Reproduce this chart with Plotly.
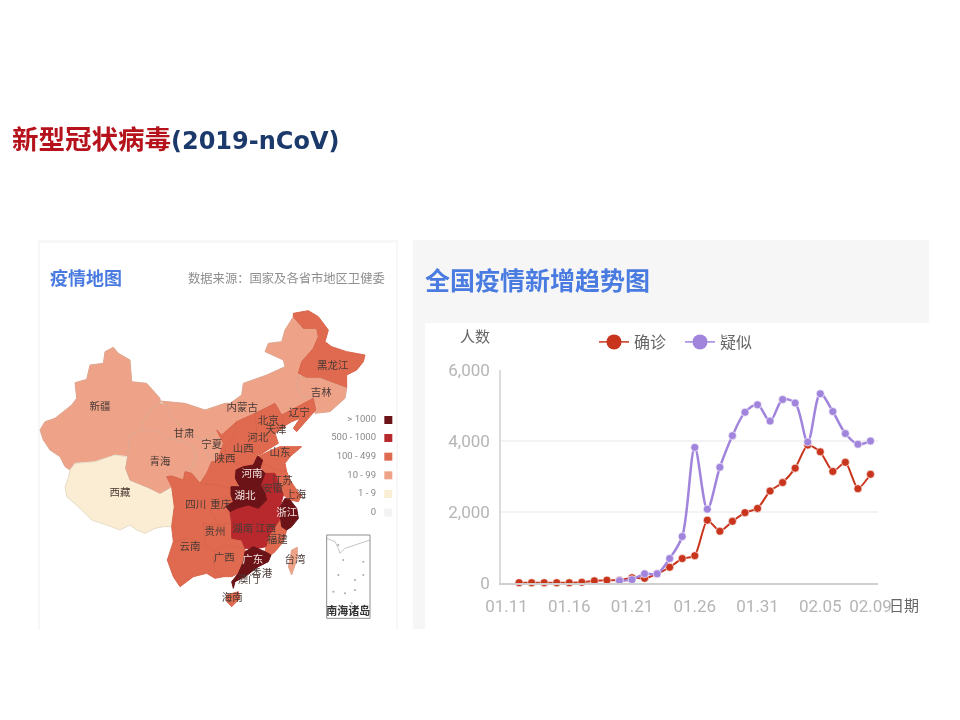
import plotly.graph_objects as go

# trend chart values
days = ['01.11', '01.12', '01.13', '01.14', '01.15', '01.16', '01.17', '01.18', '01.19', '01.20',
        '01.21', '01.22', '01.23', '01.24', '01.25', '01.26', '01.27', '01.28', '01.29', '01.30',
        '01.31', '02.01', '02.02', '02.03', '02.04', '02.05', '02.06', '02.07', '02.08', '02.09']
confirmed = [None, 10, 10, 10, 10, 10, 20, 60, 80, 77, 149, 131, 259, 444, 688, 769,
             1771, 1459, 1737, 1982, 2102, 2590, 2829, 3235, 3887, 3694, 3143, 3399, 2656, 3062]
suspected = [None, None, None, None, None, None, None, None, None, 65, 95, 260, 260, 690, 1310, 3820,
             2080, 3260, 4150, 4810, 5020, 4560, 5170, 5070, 3970, 5330, 4830, 4210, 3910, 4000]
day_ticks = ['01.11', '01.16', '01.21', '01.26', '01.31', '02.05', '02.09']
count_ticks = [0, 2000, 4000, 6000]

# map outlines, in units of the map panel (3 units per screen pixel)
xinjiang = [(30, 570), (45, 545), (75, 535), (125, 495), (140, 475), (135, 428), (170, 418), (180, 375), (220, 370),
            (225, 335), (250, 322), (265, 340), (300, 360), (305, 425), (350, 430), (390, 475), (390, 490), (360, 510),
            (337, 550), (337, 570), (300, 585), (293, 650), (255, 645), (195, 665), (135, 670), (120, 690), (105, 680),
            (90, 650), (60, 630), (40, 600)]
xizang = [(120, 690), (135, 670), (195, 665), (255, 645), (293, 650), (287, 685), (300, 720), (360, 745), (390, 760),
          (425, 740), (433, 800), (425, 860), (400, 860), (375, 865), (345, 880), (320, 870), (300, 855), (270, 870),
          (230, 855), (185, 840), (145, 800), (110, 770), (105, 740), (115, 715)]
qinghai = [(300, 585), (337, 570), (380, 572), (410, 595), (465, 605), (490, 620), (500, 650), (485, 685), (465, 695),
           (460, 720), (425, 708), (410, 710), (425, 740), (390, 760), (360, 745), (300, 720), (287, 685), (293, 650)]
gansu = [(360, 510), (390, 490), (410, 495), (425, 535), (455, 560), (495, 590), (525, 600), (525, 630), (545, 665),
         (530, 700), (510, 730), (485, 700), (465, 695), (485, 685), (500, 650), (490, 620), (465, 605), (410, 595),
         (380, 572), (337, 570), (337, 550)]
ningxia = [(525, 600), (560, 570), (580, 610), (570, 640), (555, 665), (545, 665), (525, 630)]
neimenggu = [(390, 483), (465, 490), (525, 510), (585, 490), (600, 490), (635, 465), (640, 430), (710, 405), (765, 380),
             (760, 360), (705, 335), (715, 310), (755, 305), (765, 270), (790, 230), (820, 265), (860, 265), (865, 290),
             (850, 325), (815, 365), (805, 410), (800, 440), (815, 470), (850, 475), (795, 505), (755, 525), (735, 490),
             (705, 505), (675, 520), (620, 545), (575, 585), (560, 570), (525, 600), (495, 590), (455, 560), (425, 535),
             (410, 495)]
heilongjiang = [(790, 220), (835, 212), (865, 230), (895, 270), (885, 305), (905, 320), (950, 335), (1005, 345),
                (1000, 365), (980, 390), (950, 405), (950, 445), (910, 430), (870, 415), (830, 415), (805, 400),
                (815, 365), (850, 325), (865, 290), (860, 265), (820, 265), (790, 230)]
jilin = [(805, 405), (830, 415), (870, 415), (910, 430), (950, 445), (945, 475), (900, 515), (855, 520), (850, 475),
         (815, 470), (800, 440)]
liaoning = [(755, 525), (795, 505), (850, 475), (857, 510), (800, 575), (790, 565), (810, 535), (785, 545), (760, 560)]
hebei = [(655, 570), (675, 520), (705, 505), (735, 490), (755, 525), (765, 560), (735, 580), (745, 610), (720, 625),
         (690, 645), (670, 640), (660, 610), (680, 570)]
shanxi = [(580, 620), (610, 590), (620, 545), (675, 520), (680, 570), (660, 610), (670, 640), (690, 650), (672, 680),
          (625, 692), (585, 665)]
shandong = [(725, 630), (750, 620), (780, 620), (815, 620), (780, 650), (765, 670), (770, 695), (740, 690), (705, 675),
            (685, 650)]
shaanxi = [(575, 585), (620, 545), (610, 590), (585, 620), (585, 665), (620, 665), (645, 680), (630, 715), (620, 745),
           (600, 750), (560, 735), (510, 730), (530, 700), (545, 665), (555, 665), (570, 640), (580, 610), (560, 570)]
henan = [(618, 690), (640, 680), (670, 675), (683, 648), (698, 660), (690, 685), (705, 700), (692, 735), (670, 750),
         (630, 742), (616, 715)]
jiangsu = [(700, 670), (740, 690), (770, 695), (780, 720), (800, 750), (810, 765), (780, 780), (760, 765), (750, 740),
           (735, 700), (705, 700), (690, 685), (698, 660)]
anhui = [(705, 700), (735, 700), (750, 740), (760, 765), (748, 810), (720, 805), (710, 780), (705, 760), (692, 735)]
shanghai = [(795, 755), (815, 765), (805, 785), (780, 780)]
hubei = [(603, 740), (630, 740), (670, 750), (692, 735), (705, 760), (710, 780), (685, 805), (655, 795), (620, 805),
         (600, 815), (588, 800), (610, 785), (603, 765)]
zhejiang = [(765, 775), (780, 780), (800, 805), (805, 835), (785, 860), (770, 870), (755, 860), (750, 830), (748, 805)]
jiangxi = [(685, 805), (710, 780), (720, 805), (748, 810), (752, 835), (735, 860), (715, 890), (708, 920), (685, 925),
           (675, 880), (680, 825)]
hunan = [(600, 815), (620, 805), (655, 795), (685, 805), (680, 825), (675, 880), (685, 925), (645, 925), (635, 900),
         (605, 895), (605, 850)]
fujian = [(752, 835), (755, 860), (770, 870), (760, 905), (735, 935), (723, 945), (705, 935), (708, 920), (715, 890),
          (735, 860)]
guangdong = [(645, 935), (670, 920), (705, 935), (723, 945), (715, 965), (685, 980), (645, 1010), (615, 1025), (610, 1045),
             (605, 1025), (625, 1000), (640, 965)]
guangxi = [(555, 935), (590, 915), (645, 925), (645, 935), (640, 965), (625, 1000), (605, 1010), (580, 1010), (555, 995),
           (550, 960)]
hainan = [(590, 1065), (625, 1055), (630, 1075), (605, 1100), (590, 1085)]
taiwan = [(785, 930), (802, 922), (802, 955), (785, 1005), (775, 980)]
guizhou = [(520, 850), (565, 855), (605, 850), (605, 895), (635, 900), (645, 925), (590, 915), (555, 935), (525, 915)]
yunnan = [(430, 905), (480, 895), (525, 915), (555, 935), (550, 960), (555, 995), (580, 1010), (555, 1015), (530, 1000),
          (490, 1010), (450, 1040), (430, 1010), (412, 960)]
chongqing = [(555, 780), (590, 770), (610, 785), (588, 800), (600, 815), (605, 850), (565, 855), (540, 810)]
sichuan = [(410, 710), (425, 708), (460, 720), (465, 695), (485, 700), (510, 730), (560, 735), (605, 745), (610, 785),
           (590, 770), (555, 780), (540, 810), (565, 855), (520, 850), (525, 915), (480, 895), (430, 905), (425, 860),
           (433, 800), (425, 740)]

province_shapes = [
    (xinjiang, 3), (xizang, 4), (qinghai, 3), (gansu, 3), (ningxia, 3), (neimenggu, 3), (heilongjiang, 2), (jilin, 3),
    (liaoning, 2), (hebei, 2), (shanxi, 2), (shandong, 2), (shaanxi, 2), (sichuan, 2), (chongqing, 2), (guizhou, 2),
    (yunnan, 2), (guangxi, 2), (fujian, 2), (hainan, 2), (taiwan, 3), (jiangsu, 2), (shanghai, 2), (anhui, 1),
    (jiangxi, 1), (hunan, 1), (henan, 0), (hubei, 0), (zhejiang, 0), (guangdong, 0),
]

level_labels = ['> 1000', '500 - 1000', '100 - 499', '10 - 99', '1 - 9', '0']
level_colors = ['#6b1317', '#b7292d', '#df6a4f', '#eea388', '#fbedd3', '#f3f3f3']
level_lines = ['#6b1317', '#b7292d', '#d9654b', '#dfa690', '#e6dcc8', '#f3f3f3']
legend_rows = [540, 594, 650, 706, 762, 818]

label_names = ['新疆', '西藏', '青海', '甘肃', '宁夏', '内蒙古', '黑龙江', '吉林', '辽宁', '北京', '天津', '河北', '山西',
               '山东', '陕西', '四川', '重庆', '贵州', '云南', '广西', '福建', '江苏', '安徽', '上海', '台湾', '香港', '澳门', '海南',
               '湖南', '江西']
label_x = [210, 270, 390, 462, 545, 637, 908, 874, 808, 715, 738, 683, 640,
           750, 585, 497, 572, 555, 480, 583, 742, 757, 728, 797, 795, 695, 655, 607,
           638, 707]
label_y = [503, 760, 668, 582, 616, 505, 378, 460, 520, 543, 572, 596, 629,
           641, 658, 795, 795, 877, 922, 955, 902, 725, 749, 767, 962, 1002, 1020, 1075,
           867, 867]
white_names = ['河南', '湖北', '浙江', '广东']
white_x = [666, 645, 770, 668]
white_y = [702, 770, 820, 960]

inset_coast_x = [890, 915, 925, 930, 945, 1000, 1020]
inset_coast_y = [895, 905, 925, 940, 925, 905, 900]
island_x = [925, 940, 1000, 925, 975, 1000, 910, 945, 975, 965]
island_y = [915, 960, 965, 1005, 1020, 1005, 1055, 1060, 1050, 1090]


def px(v):
    return v / 960


def py(v):
    return 1 - v / 720


fig = go.Figure()

for outline, level in province_shapes:
    fig.add_trace(go.Scatter(
        x=[p[0] for p in outline] + [outline[0][0]],
        y=[p[1] for p in outline] + [outline[0][1]],
        mode='lines', fill='toself', fillcolor=level_colors[level],
        line=dict(color=level_lines[level], width=1),
        hoverinfo='skip', showlegend=False, xaxis='x2', yaxis='y2'
    ))

fig.add_trace(go.Scatter(
    x=label_x, y=label_y, text=label_names, mode='text',
    textfont=dict(family='Noto Sans CJK SC', size=10.5, color='#4a3a36'),
    hoverinfo='skip', showlegend=False, xaxis='x2', yaxis='y2'
))
fig.add_trace(go.Scatter(
    x=white_x, y=white_y, text=white_names, mode='text',
    textfont=dict(family='Noto Sans CJK SC', size=10.5, color='#f4e6e2'),
    hoverinfo='skip', showlegend=False, xaxis='x2', yaxis='y2'
))

# map legend
fig.add_trace(go.Scatter(
    x=[1075] * len(legend_rows), y=legend_rows, mode='markers',
    marker=dict(symbol='square', size=8, color=level_colors),
    hoverinfo='skip', showlegend=False, xaxis='x2', yaxis='y2'
))
fig.add_trace(go.Scatter(
    x=[1038] * len(legend_rows), y=legend_rows, text=level_labels, mode='text', textposition='middle left',
    textfont=dict(family='Roboto', size=9.5, color='#8a8a8a'),
    hoverinfo='skip', showlegend=False, xaxis='x2', yaxis='y2'
))

# inset for the South China Sea islands
fig.add_trace(go.Scatter(
    x=inset_coast_x, y=inset_coast_y, mode='lines', line=dict(color='#b5b5b5', width=0.8),
    hoverinfo='skip', showlegend=False, xaxis='x2', yaxis='y2'
))
fig.add_trace(go.Scatter(
    x=island_x, y=island_y, mode='markers',
    marker=dict(size=2, color='#a9a9a9'),
    hoverinfo='skip', showlegend=False, xaxis='x2', yaxis='y2'
))
fig.add_trace(go.Scatter(
    x=[955], y=[1118], text=['<b>南海诸岛</b>'], mode='text',
    textfont=dict(family='Noto Sans CJK SC', size=11, color='#333333'),
    hoverinfo='skip', showlegend=False, xaxis='x2', yaxis='y2'
))

# trend chart
fig.add_trace(go.Scatter(
    x=days, y=confirmed, mode='lines+markers', line=dict(color='#c8351c', width=2, shape='spline', smoothing=0.6),
    marker=dict(color='#c8351c', size=8, line=dict(color='rgba(255,255,255,0.6)', width=1)),
    cliponaxis=False, showlegend=False
))
fig.add_trace(go.Scatter(
    x=days, y=suspected, mode='lines+markers', line=dict(color='#a184dc', width=2.5, shape='spline', smoothing=0.9),
    marker=dict(color='#a184dc', size=8, line=dict(color='rgba(255,255,255,0.6)', width=1)),
    cliponaxis=False, showlegend=False
))
fig.add_trace(go.Scatter(
    x=[None], y=[None], name='确诊', mode='lines+markers',
    line=dict(color='#c8351c', width=1.5), marker=dict(color='#c8351c', size=15)
))
fig.add_trace(go.Scatter(
    x=[None], y=[None], name='疑似', mode='lines+markers',
    line=dict(color='#a184dc', width=1.5), marker=dict(color='#a184dc', size=15)
))

panels = [
    (38, 240, 398, 630, '#f7f7f7'),
    (40, 243, 396, 630, '#ffffff'),
    (413, 240, 929, 629, '#f6f6f6'),
    (425, 323, 929, 629, '#ffffff'),
]
for x0, y0, x1, y1, color in panels:
    fig.add_shape(type='rect', xref='paper', yref='paper', x0=px(x0), y0=py(y0), x1=px(x1), y1=py(y1),
                  fillcolor=color, line_width=0, layer='below')

# inset frame
fig.add_shape(type='rect', xref='x2', yref='y2', x0=890, y0=885, x1=1020, y1=1135,
              line=dict(color='#8f8f8f', width=1))

title_html = ('<b><span style="color:#b5121b;font-size:26.5px">新型冠状病毒</span>'
              '<span style="color:#1b3a6b;font-family:DejaVu Sans;font-size:24px">(2019-nCoV)</span></b>')
texts = [
    (10, 137, title_html, 26, '#1b3a6b', 'left'),
    (48, 277, '<b>疫情地图</b>', 18, '#4a7be0', 'left'),
    (387, 278, '数据来源：国家及各省市地区卫健委', 12.3, '#8f8f8f', 'right'),
    (423, 279, '<b>全国疫情新增趋势图</b>', 25, '#4a7be0', 'left'),
    (475, 335, '人数', 15, '#666666', 'center'),
    (904, 604, '日期', 15, '#666666', 'center'),
]
for x, y, text, size, color, align in texts:
    fig.add_annotation(xref='paper', yref='paper', x=px(x), y=py(y), text=text, showarrow=False,
                       xanchor=align, yanchor='middle',
                       font=dict(family='Noto Sans CJK SC', size=size, color=color))

fig.update_layout(
    width=960, height=720, margin=dict(l=0, r=0, t=0, b=0, autoexpand=False),
    paper_bgcolor='white', plot_bgcolor='rgba(0,0,0,0)',
    legend=dict(orientation='h', x=px(594), y=py(342), xanchor='left', yanchor='middle', entrywidth=41,
                bgcolor='rgba(0,0,0,0)', font=dict(family='Noto Sans CJK SC', size=16, color='#666666')),
    xaxis=dict(
        domain=[px(501), px(878)], type='category', categoryorder='array', categoryarray=days,
        range=[-0.44, 29.6], tickmode='array', tickvals=day_ticks, ticktext=day_ticks,
        showgrid=False, showline=True, linecolor='#cfcfcf', linewidth=1.5, ticks='', ticklabelstandoff=7,
        tickfont=dict(family='Roboto', size=17, color='#b5b5b5')
    ),
    yaxis=dict(
        domain=[py(583), py(370)], range=[0, 6000], tickmode='array', tickvals=count_ticks, tickformat=',',
        showgrid=True, gridcolor='#f3f3f3', gridwidth=1.5, zeroline=False,
        showline=True, linecolor='#dcdcdc', linewidth=1.5, ticks='', ticklabelstandoff=6,
        tickfont=dict(family='Roboto', size=17, color='#b5b5b5')
    ),
    xaxis2=dict(domain=[px(30), px(400)], range=[0, 1110], visible=False, anchor='y2'),
    yaxis2=dict(domain=[py(630), py(240)], range=[1170, 0], visible=False, anchor='x2'),
)

fig.write_html("out.html", config=dict(displayModeBar=False),
               post_script="document.body.style.margin='0';document.body.style.filter='blur(0.5px)';")
